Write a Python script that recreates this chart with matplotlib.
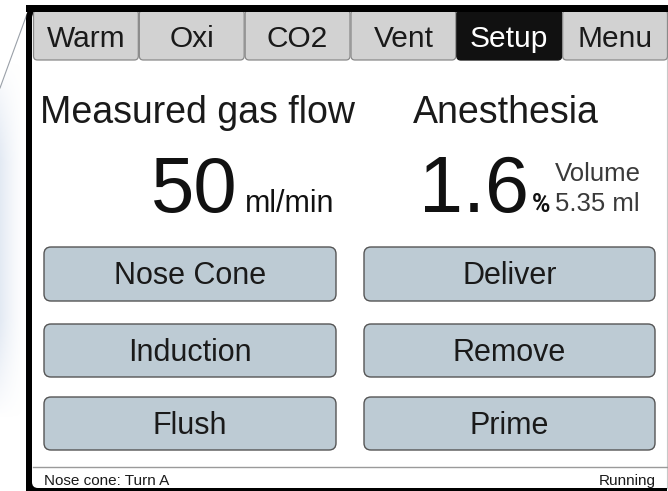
import numpy as np
import matplotlib.pyplot as plt
from matplotlib.patches import FancyBboxPatch, Rectangle, Polygon

plt.rcParams["font.family"] = ["Liberation Sans", "DejaVu Sans"]

# Screen content
tabs = ["Warm", "Oxi", "CO2", "Vent", "Setup", "Menu"]
active_tab = "Setup"
left_buttons = ["Nose Cone", "Induction", "Flush"]
right_buttons = ["Deliver", "Remove", "Prime"]
flow_title = "Measured gas flow"
flow_value = 50
flow_unit = "ml/min"
anes_title = "Anesthesia"
anes_value = 1.6
anes_unit = "%"
volume_ml = 5.35
status_left = "Nose cone: Turn A"
status_right = "Running"

W, H = 668, 491
fig = plt.figure(figsize=(W / 100, H / 100), dpi=100)
ax = fig.add_axes([0, 0, 1, 1])
ax.set_xlim(0, W)
ax.set_ylim(H, 0)
ax.axis("off")

# device edge shading on the left
grad = np.linspace(1, 0, 60)[None, :] ** 1.5 * np.ones((100, 1))
vfade = np.clip(np.sin(np.linspace(0, np.pi, 100)) * 1.3, 0, 1)[:, None]
img = np.zeros((100, 60, 4))
img[..., 0] = 0.80
img[..., 1] = 0.85
img[..., 2] = 0.92
img[..., 3] = grad * vfade * 0.55
im = ax.imshow(img, extent=[0, 27, 420, 60], aspect="auto", zorder=0)
clip = Polygon([(0, 88), (27, 14), (27, H), (0, H)], closed=True,
               transform=ax.transData)
im.set_clip_path(clip)
ax.plot([0, 27], [88, 14], color="#9aa0a8", lw=0.8, zorder=1)

# black bezel and screen
ax.add_patch(FancyBboxPatch((26, 5), 700, 500, boxstyle="round,pad=0,rounding_size=14",
                            fc="black", ec="none", zorder=1))
ax.add_patch(FancyBboxPatch((32, 12), 650, 476, boxstyle="round,pad=0,rounding_size=6",
                            fc="white", ec="none", zorder=2))
ax.add_patch(Rectangle((667, 0), 10, H, fc="white", ec="none", zorder=2))
ax.plot([667, 667], [12, 488], color="#c8c8c8", lw=0.8, zorder=3)

# tabs
x0, x1 = 33, 668
tw = (x1 - x0) / len(tabs)
for i, name in enumerate(tabs):
    left = x0 + i * tw
    active = name == active_tab
    ax.add_patch(FancyBboxPatch((left + 0.5, 10), tw - 1, 50,
                                boxstyle="round,pad=0,rounding_size=4",
                                fc="#111111" if active else "#d2d2d2",
                                ec="#111111" if active else "#8a8a8a",
                                lw=0.9, zorder=3))
    ax.text(left + tw / 2, 47, name, ha="center", va="baseline", fontsize=21.5,
            color="white" if active else "#1a1a1a", zorder=4)
ax.add_patch(Rectangle((26, 5), 700, 7, fc="black", ec="none", zorder=4))

# readouts
ax.text(40, 123, flow_title, fontsize=27, color="#1a1a1a", va="baseline", zorder=4)
ax.text(413, 123, anes_title, fontsize=27, color="#1a1a1a", va="baseline", zorder=4)
ax.text(238, 212, f"{flow_value}", fontsize=56, color="#111111", ha="right",
        va="baseline", zorder=4)
ax.text(245, 212, flow_unit, fontsize=22, color="#111111", va="baseline", zorder=4)
ax.text(529, 212, f"{anes_value:.1f}", fontsize=57, color="#111111", ha="right",
        va="baseline", zorder=4)
ax.text(532, 212, anes_unit, fontsize=18, fontweight="bold", color="#111111",
        family=["Roboto", "Liberation Sans"], va="baseline", zorder=4)
ax.text(555, 181, "Volume", fontsize=18.5, color="#3a3a3a", va="baseline", zorder=4)
ax.text(555, 211, f"{volume_ml:.2f} ml", fontsize=18.5, color="#3a3a3a",
        va="baseline", zorder=4)

# buttons
rows = [(247, 301), (324, 377), (397, 450)]
cols = [(44, 336), (364, 655)]
for col, labels in zip(cols, [left_buttons, right_buttons]):
    for (top, bot), label in zip(rows, labels):
        ax.add_patch(FancyBboxPatch((col[0], top), col[1] - col[0], bot - top,
                                    boxstyle="round,pad=0,rounding_size=7",
                                    fc="#bdcbd4", ec="#555555", lw=1.0, zorder=3))
        ax.text((col[0] + col[1]) / 2, (top + bot) / 2 + 10.5, label, ha="center",
                va="baseline", fontsize=22, color="#1a1a1a", zorder=4)

# status bar
ax.plot([33, 667], [467, 467], color="#9a9a9a", lw=1.0, zorder=3)
ax.text(44, 485, status_left, fontsize=11, color="#1a1a1a", va="baseline", zorder=4)
ax.text(656, 485, status_right, fontsize=11, color="#1a1a1a", ha="right",
        va="baseline", zorder=4)
ax.add_patch(Rectangle((26, 488), 641, 5, fc="black", ec="none", zorder=4))

fig.savefig("out.png", dpi=100)
